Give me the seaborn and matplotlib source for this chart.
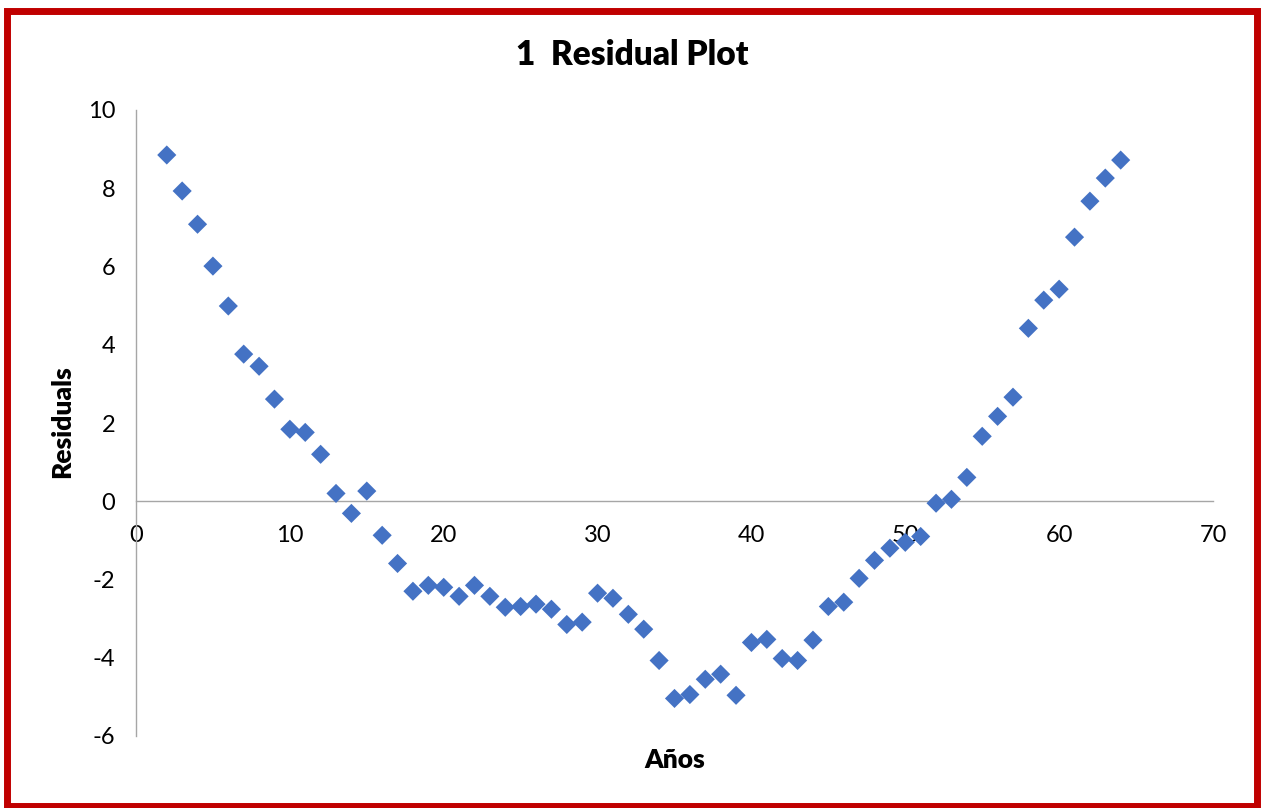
import matplotlib
matplotlib.use("Agg")
import matplotlib.pyplot as plt
from matplotlib.patches import Rectangle
import seaborn as sns
import pandas as pd

years = list(range(2, 65))
residuals = [8.85, 7.93, 7.08, 6.01, 4.99, 3.76, 3.45, 2.61, 1.84, 1.76,
             1.20, 0.20, -0.31, 0.26, -0.87, -1.59, -2.30, -2.15, -2.20, -2.43,
             -2.15, -2.43, -2.71, -2.69, -2.63, -2.76, -3.15, -3.09, -2.35, -2.48,
             -2.89, -3.27, -4.07, -5.04, -4.94, -4.55, -4.42, -4.96, -3.61, -3.53,
             -4.02, -4.07, -3.55, -2.69, -2.58, -1.97, -1.51, -1.20, -1.05, -0.90,
             -0.05, 0.05, 0.61, 1.66, 2.17, 2.66, 4.42, 5.14, 5.42, 6.75,
             7.67, 8.26, 8.72]
x_ticks = [0, 10, 20, 30, 40, 50, 60, 70]
y_ticks = [-6, -4, -2, 0, 2, 4, 6, 8, 10]

sns.set_style("white")
plt.rcParams['font.family'] = ['Lato', 'DejaVu Sans']
plt.rcParams['text.color'] = 'black'

df = pd.DataFrame({"Años": years, "Residuals": residuals})

W, H = 1265, 808
fig = plt.figure(figsize=(W / 100, H / 100), dpi=100)
ax = fig.add_axes([136 / W, 1 - 736 / H, (1213 - 136) / W, (736 - 110) / H])

sns.scatterplot(data=df, x="Años", y="Residuals", marker="D", s=95,
                color="#4472C4", edgecolor="none", ax=ax, zorder=3)

ax.set_xlim(0, 70)
ax.set_ylim(-6, 10)
ax.set_xticks(x_ticks)
ax.set_yticks(y_ticks)
ax.set_xticklabels([str(v) for v in x_ticks])
ax.set_yticklabels([str(v) for v in y_ticks])

for side in ["top", "right"]:
    ax.spines[side].set_visible(False)
ax.spines["bottom"].set_position(("data", 0))
for side in ["left", "bottom"]:
    ax.spines[side].set_color("#A6A6A6")
    ax.spines[side].set_linewidth(1.0)
ax.tick_params(axis="both", direction="out", length=6, width=1.0, color="#A6A6A6",
               labelsize=17, labelcolor="black")
ax.tick_params(axis="x", pad=11)
ax.tick_params(axis="y", pad=9)

ax.set_xlabel("")
ax.set_ylabel("")
fig.text((136 + 1213) / 2 / W, 1 - 760 / H, "Años", ha="center", va="center",
         fontsize=19, fontweight="heavy", color="black")
fig.text(62 / W, 1 - 422 / H, "Residuals", ha="center", va="center",
         rotation=90, fontsize=19, fontweight="heavy", color="black")
fig.text(632 / W, 1 - 55 / H, "1  Residual Plot", ha="center", va="center",
         fontsize=24, fontweight="heavy", color="black")

border = Rectangle((7.5 / W, 1 - 806 / H), (1256.5 - 7.5) / W, (806 - 10.5) / H,
                   transform=fig.transFigure, fill=False, edgecolor="#C00000",
                   linewidth=5, zorder=10)
fig.patches.append(border)

fig.savefig("out.png", dpi=100)
